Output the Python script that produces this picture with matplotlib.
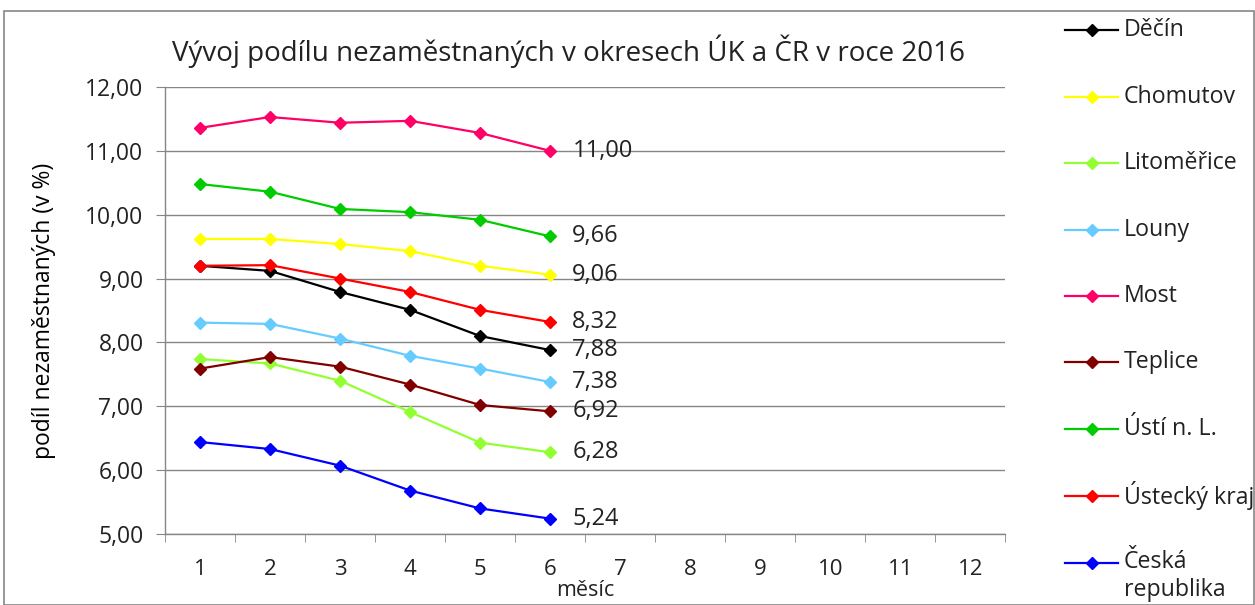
import matplotlib.pyplot as plt
from matplotlib.lines import Line2D
from matplotlib.patches import Rectangle
from matplotlib.ticker import FuncFormatter

plt.rcParams['font.family'] = ['Open Sans', 'DejaVu Sans']

months = [1, 2, 3, 4, 5, 6]
decin = [9.20, 9.12, 8.79, 8.51, 8.10, 7.88]
chomutov = [9.62, 9.62, 9.54, 9.43, 9.20, 9.06]
litomerice = [7.74, 7.67, 7.40, 6.91, 6.43, 6.28]
louny = [8.31, 8.29, 8.06, 7.79, 7.59, 7.38]
most = [11.36, 11.53, 11.44, 11.47, 11.28, 11.00]
teplice = [7.59, 7.77, 7.62, 7.34, 7.02, 6.92]
usti = [10.48, 10.36, 10.09, 10.04, 9.92, 9.66]
ustecky_kraj = [9.20, 9.21, 9.00, 8.79, 8.51, 8.32]
cr = [6.44, 6.33, 6.07, 5.68, 5.40, 5.24]

series = [
    ('Děčín', decin, '#000000'),
    ('Chomutov', chomutov, '#FFFF00'),
    ('Litoměřice', litomerice, '#92FF33'),
    ('Louny', louny, '#66CCFF'),
    ('Most', most, '#FF0066'),
    ('Teplice', teplice, '#800000'),
    ('Ústí n. L.', usti, '#00CC00'),
    ('Ústecký kraj', ustecky_kraj, '#FF0000'),
    ('Česká\nrepublika', cr, '#0000FF'),
]

def fmt(v):
    return ('%.2f' % v).replace('.', ',')

W, H = 1255, 605
fig = plt.figure(figsize=(W / 100, H / 100), dpi=100)
ax = fig.add_axes([0.1315, 0.1174, 0.6695, 0.7388])

for name, vals, col in series:
    ax.plot(months, vals, color=col, lw=1.6, marker='D', ms=6.5, label=name)
    ax.annotate(fmt(vals[-1]), (months[-1], vals[-1]), xytext=(16, 0),
                textcoords='offset points', va='center', ha='left',
                fontsize=17, color='#222222')

ax.set_xlim(0.5, 12.5)
ax.set_ylim(5, 12)
ax.set_xticks(range(1, 13))
ax.set_xticks([x + 0.5 for x in range(0, 13)], minor=True)
ax.set_yticks(range(5, 13))
ax.yaxis.set_major_formatter(FuncFormatter(lambda v, p: fmt(v)))
ax.tick_params(axis='x', which='major', length=0, labelsize=16, pad=18, labelcolor='#222222')
ax.tick_params(axis='x', which='minor', length=6, color='#868686', direction='out')
ax.tick_params(axis='y', length=6.5, color='#868686', labelsize=16.5, pad=9, labelcolor='#222222')
ax.grid(axis='y', color='#868686', lw=1)
ax.set_axisbelow(True)
for s in ['top', 'right']:
    ax.spines[s].set_visible(False)
for s in ['left', 'bottom']:
    ax.spines[s].set_color('#868686')
    ax.spines[s].set_linewidth(1)

ax.set_xlabel('měsíc', fontsize=15.5, color='#222222')
ax.xaxis.set_label_coords(0.5, -0.103)
ax.set_ylabel('podíl nezaměstnaných (v %)', fontsize=16.5, color='#000000')
ax.yaxis.set_label_coords(-0.13, 0.5)
fig.text(0.4526, 0.915, 'Vývoj podílu nezaměstnaných v okresech ÚK a ČR v roce 2016',
         ha='center', va='center', fontsize=20, color='#222222')

# legend drawn by hand, Excel-like spacing (rows in pixels from top)
leg_rows = [30, 97, 163, 230, 296, 362, 429, 496, 563]
x0, x1, xt = 1065 / W, 1118 / W, 1124 / W
for (name, vals, col), yp in zip(series, leg_rows):
    yf = 1 - yp / H
    fig.add_artist(Line2D([x0, (x0 + x1) / 2, x1], [yf] * 3, transform=fig.transFigure,
                          color=col, lw=1.6, marker='D', ms=6.5, markevery=[1]))
    fig.text(xt, yf, name, ha='left', va='top' if '\n' in name else 'center',
             fontsize=16.7, color='#222222', linespacing=1.25,
             transform=fig.transFigure)
# first line of the two-line entry is anchored at its top, nudge to centre
fig.texts[-1].set_y(1 - (leg_rows[-1] - 13) / H)

fig.patches.append(Rectangle((0.003, 0.0), 0.996, 0.982, transform=fig.transFigure,
                             fill=False, edgecolor='#868686', lw=1.2))

fig.savefig('out.png', dpi=100)
